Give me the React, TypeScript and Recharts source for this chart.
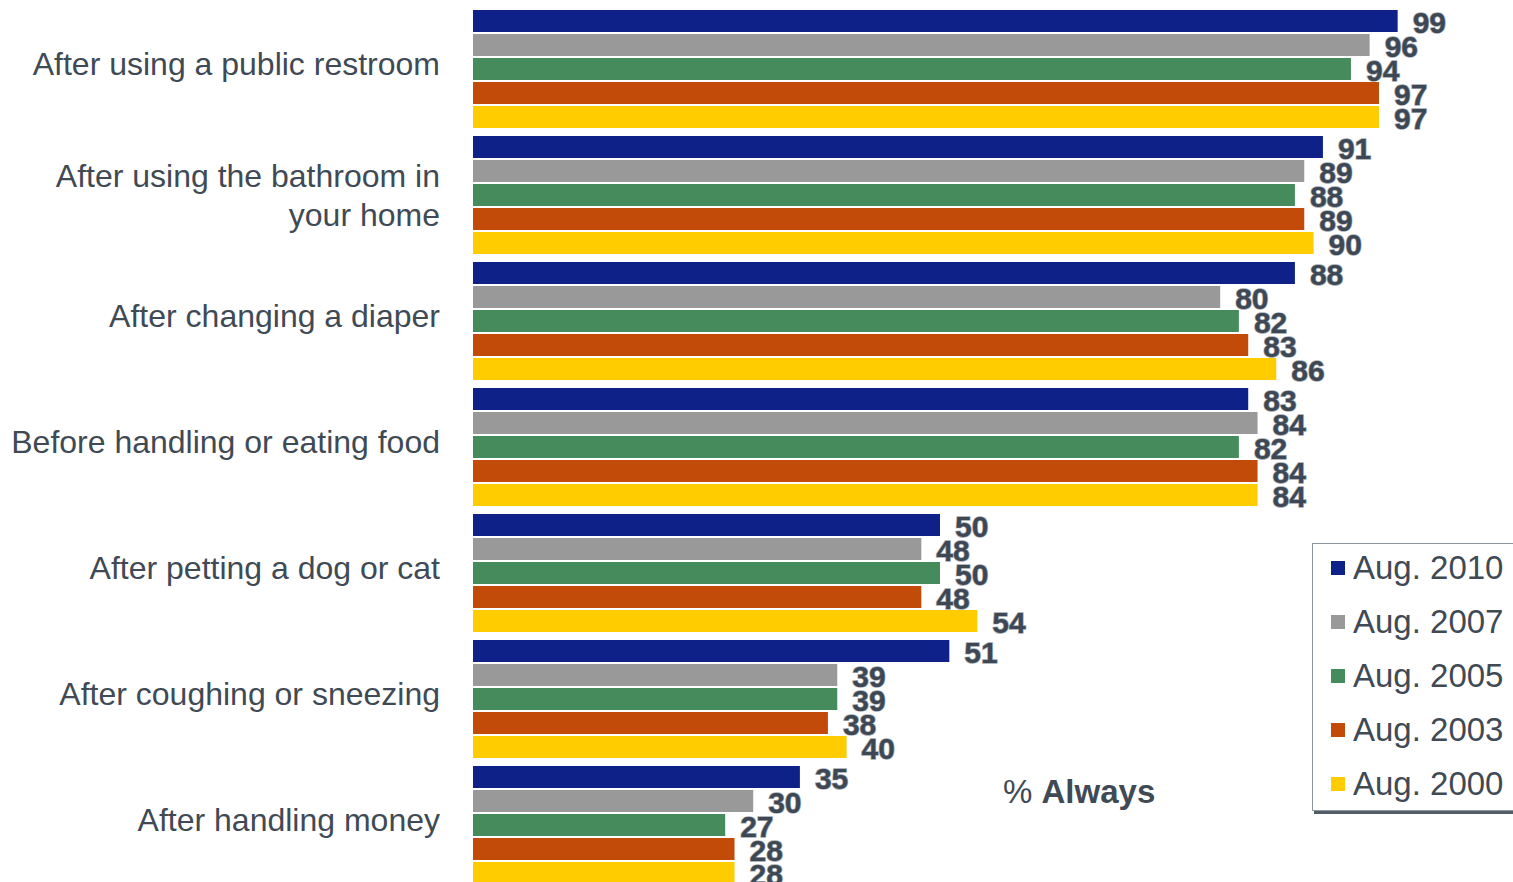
import { BarChart, Bar, XAxis, YAxis, Legend, LabelList } from "recharts";

const categories = [
    "After using a public restroom",
    "After using the bathroom in your home",
    "After changing a diaper",
    "Before handling or eating food",
    "After petting a dog or cat",
    "After coughing or sneezing",
    "After handling money"
];

const aug2010 = [99, 91, 88, 83, 50, 51, 35];
const aug2007 = [96, 89, 80, 84, 48, 39, 30];
const aug2005 = [94, 88, 82, 82, 50, 39, 27];
const aug2003 = [97, 89, 83, 84, 48, 38, 28];
const aug2000 = [97, 90, 86, 84, 54, 40, 28];

const seriesNames = ["Aug. 2010", "Aug. 2007", "Aug. 2005", "Aug. 2003", "Aug. 2000"];
const seriesKeys = ["a2010", "a2007", "a2005", "a2003", "a2000"];
const seriesColors = ["#0e2189", "#999999", "#458b5c", "#c24b09", "#ffcc00"];

const data = categories.map((name, i) => ({
    name,
    a2010: aug2010[i],
    a2007: aug2007[i],
    a2005: aug2005[i],
    a2003: aug2003[i],
    a2000: aug2000[i]
}));

const TEXT = "#3f4a55";

// greedy wrap so long category names break over two lines
const wrap = (s: string, max: number) => {
    const lines: string[] = [];
    let cur = "";
    s.split(" ").forEach((w) => {
        const next = cur ? cur + " " + w : w;
        if (next.length > max && cur) {
            lines.push(cur);
            cur = w;
        } else {
            cur = next;
        }
    });
    if (cur) lines.push(cur);
    return lines;
};

const CategoryTick = ({ x, y, payload }: any) => {
    const lines = wrap(payload.value, 30);
    const lh = 39;
    const start = lines.length === 1 ? -5 : -((lines.length - 1) * lh) / 2;
    return (
        <text
            x={x}
            y={y}
            textAnchor="end"
            fill={TEXT}
            style={{ fontFamily: "'Liberation Sans', Arial, sans-serif", fontSize: 32 }}
        >
            {lines.map((l, i) => (
                <tspan key={i} x={x} y={y + start + i * lh} dominantBaseline="central">
                    {l}
                </tspan>
            ))}
        </text>
    );
};

const ValueLabel = ({ x, y, width, height, value }: any) => (
    <text
        x={x + width + 15}
        y={y + height / 2 + 1}
        dominantBaseline="central"
        fill="#3d4854"
        stroke="#a3a9b0"
        strokeWidth={1.4}
        paintOrder="stroke"
        style={{
            fontFamily: "'Liberation Sans Narrow', 'Arial Narrow', 'Liberation Sans', sans-serif",
            fontWeight: "bold",
            fontSize: 30
        }}
    >
        {value}
    </text>
);

const LegendBox = () => (
    <div
        style={{
            width: 230,
            height: 268,
            boxSizing: "border-box",
            border: "1px solid #8e959c",
            boxShadow: "2px 3px 0 #525c66",
            background: "#fff"
        }}
    >
        <div style={{ marginTop: -3 }}>
            {seriesNames.map((n, i) => (
                <div
                    key={n}
                    style={{
                        display: "flex",
                        alignItems: "center",
                        height: 54,
                        fontFamily: "'Liberation Sans', Arial, sans-serif",
                        fontSize: 33,
                        color: TEXT,
                        whiteSpace: "nowrap"
                    }}
                >
                    <span
                        style={{
                            display: "inline-block",
                            width: 14,
                            height: 14,
                            background: seriesColors[i],
                            marginLeft: 18,
                            marginRight: 8
                        }}
                    />
                    {n}
                </div>
            ))}
        </div>
    </div>
);

export default function App() {
    return (
        <div style={{ position: "fixed", left: 0, top: 0, width: 1513, height: 882, overflow: "hidden", background: "#fff" }}>
            <BarChart
                width={1513}
                height={890}
                layout="vertical"
                data={data}
                margin={{ top: 6, right: 106, bottom: 2, left: 0 }}
                barCategoryGap={4}
                barGap={2}
            >
                <XAxis type="number" domain={[0, 100]} hide />
                <YAxis
                    type="category"
                    dataKey="name"
                    width={473}
                    axisLine={false}
                    tickLine={false}
                    tickSize={0}
                    tickMargin={33}
                    interval={0}
                    tick={<CategoryTick />}
                />
                <Legend
                    layout="vertical"
                    align="center"
                    verticalAlign="middle"
                    content={<LegendBox />}
                    wrapperStyle={{ position: "absolute", left: 1312, top: 543, width: 230 }}
                />
                {seriesKeys.map((k, i) => (
                    <Bar key={k} dataKey={k} name={seriesNames[i]} fill={seriesColors[i]} isAnimationActive={false}>
                        <LabelList dataKey={k} content={<ValueLabel />} />
                    </Bar>
                ))}
            </BarChart>
            <div
                style={{
                    position: "absolute",
                    left: 1003,
                    top: 773,
                    fontFamily: "'Liberation Sans', Arial, sans-serif",
                    fontSize: 33,
                    color: TEXT,
                    whiteSpace: "nowrap"
                }}
            >
                % <b>Always</b>
            </div>
        </div>
    );
}
